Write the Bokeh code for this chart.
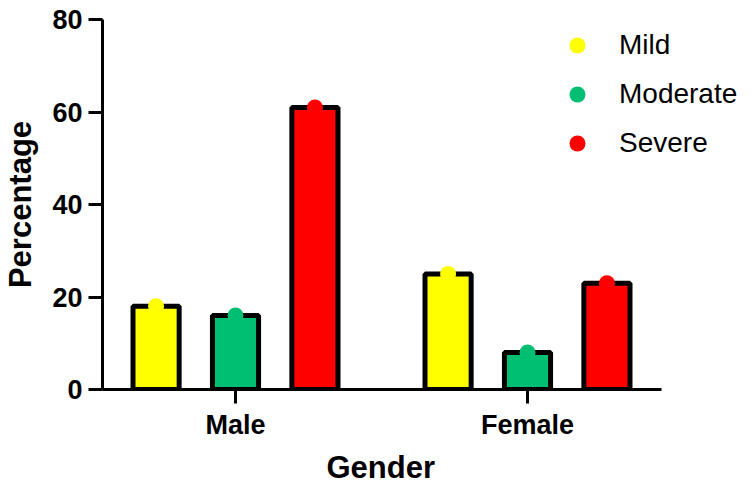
from bokeh.plotting import figure
from bokeh.models import Range1d, FixedTicker, ColumnDataSource, Legend, LegendItem, Title
from bokeh.embed import file_html
from bokeh.resources import INLINE

groups = ["Male", "Female"]
severities = ["Mild", "Moderate", "Severe"]
mild = [18, 25]
moderate = [16, 8]
severe = [61, 23]
colors = ["#FFFF00", "#00BF73", "#FF0000"]
y_ticks = [0, 20, 40, 60, 80]

series = [mild, moderate, severe]
offsets = [-0.272, 0.0, 0.272]
group_pos = [i + 1 for i in range(len(groups))]

FONT = "Liberation Sans"

x_start, x_axis_end, x_end = 0.5445, 2.459, 2.7397

p = figure(frame_width=641, frame_height=370, output_backend="svg", toolbar_location=None,
           x_range=Range1d(x_start, x_end), y_range=Range1d(0, 80),
           min_border_left=93, min_border_right=0, min_border_top=19, min_border_bottom=0)

legend_items = []
for name, vals, col, off in zip(severities, series, colors, offsets):
    src = ColumnDataSource(dict(x=[g + off for g in group_pos], top=vals))
    p.vbar(x="x", top="top", bottom=0, width=0.158, source=src,
           fill_color=col, line_color="black", line_width=5)
    r = p.scatter(x="x", y="top", source=src, size=16, fill_color=col, line_color=None, marker="circle")
    legend_items.append(LegendItem(label=name, renderers=[r]))

legend = Legend(items=legend_items, location=(455, 226))
legend.glyph_width = 40
legend.glyph_height = 40
legend.label_height = 40
legend.spacing = 9
legend.padding = 0
legend.margin = 0
legend.label_standoff = 22
legend.label_text_font = FONT
legend.label_text_font_size = "28px"
legend.label_text_color = "black"
legend.border_line_color = None
legend.background_fill_alpha = 0
p.add_layout(legend, "center")

for ax in (p.xaxis[0], p.yaxis[0]):
    ax.axis_line_width = 3
    ax.axis_line_color = "black"
    ax.major_tick_line_width = 3
    ax.major_tick_line_color = "black"
    ax.major_tick_out = 14
    ax.major_tick_in = 0
    ax.minor_tick_line_color = None
    ax.major_label_text_font = FONT
    ax.major_label_text_font_style = "bold"
    ax.major_label_text_font_size = "27px"
    ax.major_label_text_color = "black"
    ax.axis_label_text_font = FONT
    ax.axis_label_text_font_style = "bold"
    ax.axis_label_text_font_size = "31px"
    ax.axis_label_text_color = "black"

p.yaxis.ticker = FixedTicker(ticks=y_ticks)
p.yaxis.major_label_standoff = 6
p.yaxis.axis_label = "Percentage"
p.yaxis.axis_label_standoff = 11

p.xaxis.ticker = FixedTicker(ticks=group_pos)
p.xaxis.major_label_overrides = {g: n for g, n in zip(group_pos, groups)}
p.xaxis.major_label_standoff = 6
p.xaxis.bounds = (x_start, x_axis_end)

xlabel = Title(text="Gender", align="left", offset=224, text_font=FONT,
               text_font_style="bold", text_font_size="31px", text_color="black",
               standoff=11)
p.add_layout(xlabel, "below")

p.xgrid.grid_line_color = None
p.ygrid.grid_line_color = None
p.outline_line_color = None

open("out.html", "w").write(file_html(p, INLINE))
